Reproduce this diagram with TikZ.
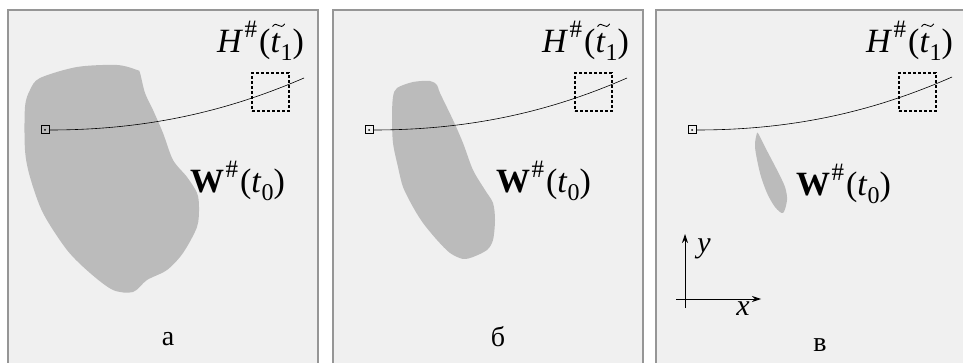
\documentclass[tikz,border=0pt]{standalone}
\usepackage{fontspec}
\setmainfont{Liberation Serif}
\usetikzlibrary{arrows.meta}
\definecolor{paneledge}{RGB}{150,150,150}
\definecolor{panelfill}{RGB}{240,240,240}
\definecolor{blobgray}{RGB}{187,187,187}
\newcommand\hsh{\hspace{0.04em}\raisebox{0.45em}{\fontsize{25}{25}\selectfont\#}\hspace{0.06em}}
\newcommand\sbs[1]{\raisebox{-0.22em}{\fontsize{24}{24}\selectfont #1}}
\newcommand\tilt{\makebox[0pt][l]{\hspace{0.05em}\raisebox{0.78em}{\tikz[x=1pt,y=1pt,baseline=0pt]\draw[line width=0.9pt,line cap=round] (0,0) .. controls (2,3) and (4,2.5) .. (6,1) .. controls (8,-0.5) and (10,-0.5) .. (12,2.5);}}\textit{t}}
\newcommand\Hlab{\textit{H}\hsh(\tilt\sbs{1})}
\newcommand\Wlab{\textbf{W}\hsh(\textit{t}\sbs{0})}
\begin{document}
\begin{tikzpicture}[x=1pt,y=-1pt,
  panel/.style={draw=paneledge,line width=1.5pt,fill=panelfill},
  blob/.style={fill=blobgray,draw=none},
  marker/.style={draw,line width=1pt,minimum size=8pt,inner sep=0pt},
  window/.style={draw,line width=1.6pt,dash pattern=on 3pt off 2pt,minimum width=37pt,minimum height=38pt,inner sep=0pt},
  traj/.style={line width=0.6pt},
  biglabel/.style={font=\fontsize{34}{34}\selectfont,inner sep=0pt,anchor=base west},
  caption/.style={font=\fontsize{28}{28}\selectfont,inner sep=0pt,anchor=base},
  axis/.style={line width=0.9pt,-{Stealth[length=9pt,width=6pt]}},
  axlabel/.style={font=\fontsize{30}{30}\selectfont\itshape,inner sep=0pt,anchor=base}]
\useasboundingbox (0,0) rectangle (963,363);
\fill[white] (0,0) rectangle (963,363);
% panels
\draw[panel] (8,10) rectangle (318,380);
\draw[panel] (333,10) rectangle (643,380);
\draw[panel] (656,10) rectangle (975,380);
% blobs
\fill[blob] plot[smooth cycle,tension=0.5] coordinates {(137,70) (117,65) (77,67) (40,78) (30,90) (25,107) (25,150) (30,177) (43,213) (67,250) (90,273) (113,290) (133,292) (147,280) (167,270) (183,253) (197,227) (199,207) (197,193) (187,177) (173,160) (163,133) (153,110) (145,93) (140,73)};
\fill[blob] plot[smooth cycle,tension=0.5] coordinates {(397,88) (413,82) (430,81) (437,85) (440,93) (453,120) (463,143) (473,170) (485,190) (493,203) (495,220) (493,240) (487,250) (473,257) (463,259) (450,253) (437,240) (423,223) (413,207) (403,187) (398,167) (393,143) (392,117) (393,97)};
\fill[blob] plot[smooth cycle,tension=0.5] coordinates {(757,133) (755,147) (760,173) (767,193) (775,207) (783,213) (787,200) (785,187) (777,170) (765,147) (759,135)};
% markers, windows, trajectories
\node[marker] (s1) at (45,130) {};
\node[marker] (s2) at (369,130) {};
\node[marker] (s3) at (692,130) {};
\fill (s1) circle (1pt); \fill (s2) circle (1pt); \fill (s3) circle (1pt);
\node[window] (h1) at (270.5,92) {};
\node[window] (h2) at (593.5,92) {};
\node[window] (h3) at (917.5,92) {};
\coordinate (e1) at (304,78);
\coordinate (e2) at (627,78);
\coordinate (e3) at (952,77);
\draw[traj] (s1.east) .. controls (150,130) and (230,110) .. (e1);
\draw[traj] (s2.east) .. controls (474,130) and (554,110) .. (e2);
\draw[traj] (s3.east) .. controls (797,130) and (877,110) .. (e3);
% labels
\node[biglabel] (H1) at (217,53) {\Hlab};
\node[biglabel] (H2) at (542,53) {\Hlab};
\node[biglabel] (H3) at (866,53) {\Hlab};
\node[biglabel] (W1) at (190,193) {\Wlab};
\node[biglabel] (W2) at (496,193) {\Wlab};
\node[biglabel] (W3) at (796,196) {\Wlab};
\node[caption] (ca) at (168,345) {а};
\node[caption] (cb) at (498,346) {б};
\node[caption] (cc) at (820,351) {в};
% axes
\coordinate (xs) at (676,299);
\coordinate (xe) at (761,299);
\coordinate (ys) at (685,308);
\coordinate (ye) at (685,234);
\draw[axis] (xs) -- (xe);
\draw[axis] (ys) -- (ye);
\node[axlabel] (ly) at (704,253) {y};
\node[axlabel] (lx) at (743,315) {x};
\end{tikzpicture}
\end{document}
